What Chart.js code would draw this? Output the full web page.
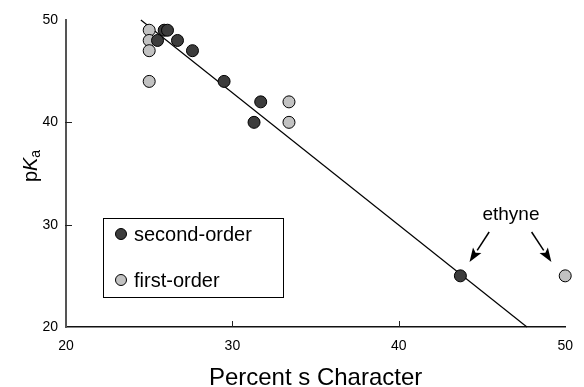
<!DOCTYPE html>
<html lang="en">
<head>
    <meta charset="UTF-8">
    <title>pKa vs Percent s Character</title>
    <script src="https://cdn.jsdelivr.net/npm/chart.js"></script>
    <style>
        html, body { margin: 0; padding: 0; background: #fff; }
        .chart-container { width: 584px; height: 387px; }
    </style>
</head>
<body>
<div class="chart-container">
    <canvas id="pkaChart"></canvas>
</div>

<script>
    // data
    const secondOrderX = [25.5, 25.9, 26.1, 26.7, 27.6, 29.5, 31.3, 31.7, 43.7];
    const secondOrderY = [48, 49, 49, 48, 47, 44, 40, 42, 25];
    const firstOrderX = [25.0, 25.0, 25.0, 25.0, 33.4, 33.4, 50.0];
    const firstOrderY = [49, 48, 47, 44, 42, 40, 25];
    const fitX = [24.5, 47.7];
    const fitY = [50, 20];
    const xTicks = [20, 30, 40, 50];
    const yTicks = [20, 30, 40, 50];
    const seriesNames = ['second-order', 'first-order'];
    const noteText = 'ethyne';
    const noteAt = [46.74, 31.0];
    const arrowFrom = [[45.43, 29.28], [47.98, 29.28]];
    const arrowTo = [[44.25, 26.35], [49.17, 26.35]];

    const FONT = '"Liberation Sans", Arial, Helvetica, sans-serif';
    const DARK = '#3c3c3c';
    const LIGHT = '#c2c2c2';

    function toPoints(xs, ys) {
        return xs.map((x, i) => ({ x: x, y: ys[i] }));
    }

    // inward ticks, legend box, axis titles, ethyne note
    const extras = {
        id: 'extras',
        afterDraw(chart) {
            const ctx = chart.ctx;
            const xs = chart.scales.x, ys = chart.scales.y;
            const area = chart.chartArea;
            ctx.save();

            // inward tick marks
            ctx.strokeStyle = '#222';
            ctx.lineWidth = 1;
            xTicks.slice(1, -1).forEach(v => {
                const px = Math.round(xs.getPixelForValue(v)) + 0.5;
                ctx.beginPath();
                ctx.moveTo(px, area.bottom);
                ctx.lineTo(px, area.bottom - 6);
                ctx.stroke();
            });
            yTicks.slice(1, -1).forEach(v => {
                const py = Math.round(ys.getPixelForValue(v)) + 0.5;
                ctx.beginPath();
                ctx.moveTo(area.left - 1, py);
                ctx.lineTo(area.left + 6, py);
                ctx.stroke();
            });

            // legend box
            const bx = area.left + 37, by = area.top + 198;
            ctx.strokeStyle = '#000';
            ctx.lineWidth = 1;
            ctx.strokeRect(bx + 0.5, by + 0.5, 180, 79);
            const fills = [DARK, LIGHT];
            ctx.font = '20px ' + FONT;
            ctx.textBaseline = 'middle';
            ctx.textAlign = 'left';
            seriesNames.forEach((name, i) => {
                const cy = by + 16 + i * 46;
                ctx.beginPath();
                ctx.arc(bx + 18, cy, 5.5, 0, Math.PI * 2);
                ctx.fillStyle = fills[i];
                ctx.fill();
                ctx.strokeStyle = '#000';
                ctx.stroke();
                ctx.fillStyle = '#000';
                ctx.fillText(name, bx + 31, cy + 1);
            });

            // x title
            ctx.font = '24px ' + FONT;
            ctx.textAlign = 'center';
            ctx.textBaseline = 'alphabetic';
            ctx.fillText('Percent s Character', (area.left + area.right) / 2, 385);

            // y title: p K(italic) a(subscript)
            ctx.translate(37, 166);
            ctx.rotate(-Math.PI / 2);
            ctx.textAlign = 'left';
            ctx.font = '20px ' + FONT;
            const wP = ctx.measureText('p').width;
            ctx.font = 'italic 20px ' + FONT;
            const wK = ctx.measureText('K').width;
            ctx.font = '14px ' + FONT;
            const wA = ctx.measureText('a').width;
            let sx = -(wP + wK + wA) / 2;
            ctx.font = '20px ' + FONT;
            ctx.fillText('p', sx, 0);
            ctx.font = 'italic 20px ' + FONT;
            ctx.fillText('K', sx + wP, 0);
            ctx.font = '14px ' + FONT;
            ctx.fillText('a', sx + wP + wK, 3);
            ctx.setTransform(1, 0, 0, 1, 0, 0);

            // ethyne note with arrows
            ctx.fillStyle = '#000';
            ctx.font = '19px ' + FONT;
            ctx.textAlign = 'center';
            ctx.textBaseline = 'middle';
            ctx.fillText(noteText, xs.getPixelForValue(noteAt[0]), ys.getPixelForValue(noteAt[1]));
            arrowFrom.forEach((f, i) => {
                const x1 = xs.getPixelForValue(f[0]), y1 = ys.getPixelForValue(f[1]);
                const x2 = xs.getPixelForValue(arrowTo[i][0]), y2 = ys.getPixelForValue(arrowTo[i][1]);
                const ang = Math.atan2(y2 - y1, x2 - x1);
                const hl = 14, hw = 5;
                const bxh = x2 - hl * Math.cos(ang), byh = y2 - hl * Math.sin(ang);
                ctx.strokeStyle = '#000';
                ctx.lineWidth = 1.5;
                ctx.beginPath();
                ctx.moveTo(x1, y1);
                ctx.lineTo(bxh, byh);
                ctx.stroke();
                ctx.beginPath();
                ctx.moveTo(x2, y2);
                ctx.lineTo(bxh + hw * Math.sin(ang), byh - hw * Math.cos(ang));
                ctx.lineTo(bxh + 3 * Math.cos(ang), byh + 3 * Math.sin(ang));
                ctx.lineTo(bxh - hw * Math.sin(ang), byh + hw * Math.cos(ang));
                ctx.closePath();
                ctx.fill();
            });
            ctx.restore();
        }
    };

    const ctx = document.getElementById('pkaChart').getContext('2d');
    const pkaChart = new Chart(ctx, {
        type: 'scatter',
        data: {
            datasets: [
                {
                    label: 'fit',
                    type: 'line',
                    data: toPoints(fitX, fitY),
                    borderColor: '#000',
                    borderWidth: 1.2,
                    pointRadius: 0,
                    fill: false,
                    order: 3
                },
                {
                    label: seriesNames[1],
                    data: toPoints(firstOrderX, firstOrderY),
                    backgroundColor: LIGHT,
                    borderColor: '#000',
                    borderWidth: 1,
                    pointRadius: 6,
                    order: 2
                },
                {
                    label: seriesNames[0],
                    data: toPoints(secondOrderX, secondOrderY),
                    backgroundColor: DARK,
                    borderColor: '#000',
                    borderWidth: 1,
                    pointRadius: 6,
                    order: 1
                }
            ]
        },
        options: {
            responsive: true,
            maintainAspectRatio: false,
            animation: false,
            clip: false,
            layout: { padding: { top: 20, right: 12, left: 0, bottom: 0 } },
            plugins: {
                legend: { display: false },
                tooltip: { enabled: false }
            },
            scales: {
                x: {
                    type: 'linear',
                    min: 20,
                    max: 50,
                    afterBuildTicks: s => { s.ticks = xTicks.map(v => ({ value: v })); },
                    afterFit: s => { s.height = 60; },
                    grid: { display: false, drawTicks: false },
                    border: { display: true, color: '#111', width: 1.5 },
                    ticks: { color: '#000', font: { family: FONT, size: 14 }, padding: 11, maxRotation: 0 }
                },
                y: {
                    type: 'linear',
                    min: 20,
                    max: 50,
                    afterBuildTicks: s => { s.ticks = yTicks.map(v => ({ value: v })); },
                    afterFit: s => { s.width = 66; },
                    grid: { display: false, drawTicks: false },
                    border: { display: true, color: '#555', width: 2 },
                    ticks: { color: '#000', font: { family: FONT, size: 14 }, padding: 8 }
                }
            }
        },
        plugins: [extras]
    });
</script>
</body>
</html>
